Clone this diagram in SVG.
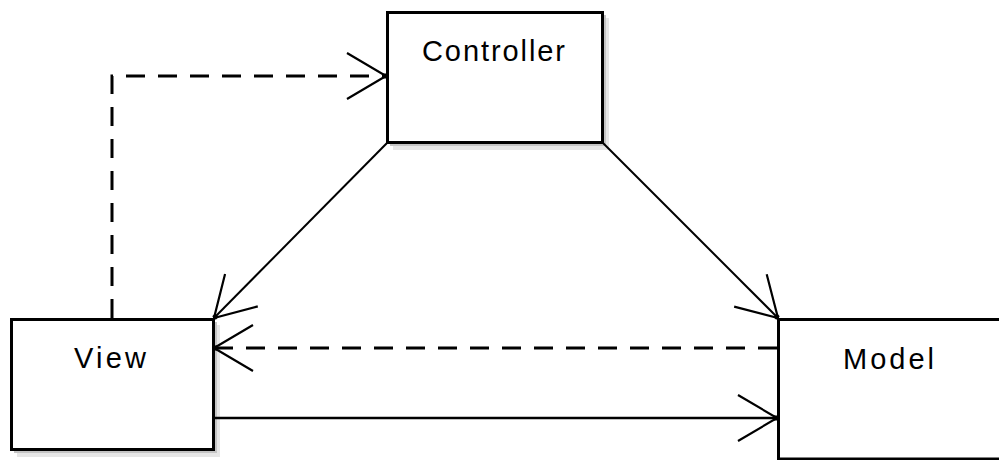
<svg xmlns="http://www.w3.org/2000/svg" width="999" height="460" viewBox="0 0 999 460">
<style>
.box{fill:#fff;stroke:#000;stroke-width:3}
.sh1{fill:#c4c4c4}
.sh2{fill:#e6e6e6}
.lbl{font-family:"Liberation Sans",Arial,sans-serif;font-size:29px;fill:#000}
.conn{fill:none;stroke:#000;stroke-width:2.5}
.diag{stroke-width:2}
.dash{stroke-width:3;stroke-dasharray:19 13}
</style>
<defs>
<marker id="open" markerUnits="userSpaceOnUse" markerWidth="60" markerHeight="60" refX="0" refY="0" viewBox="-50 -30 60 60" orient="auto" overflow="visible">
<path d="M -39 -23 L 0 0 L -39 23" fill="none" stroke="#000" stroke-width="2.2"/>
<rect x="-4" y="-2.5" width="4" height="5" fill="#000"/>
</marker>
</defs>
<rect width="999" height="460" fill="#fff"/>
<g id="controller">
<rect class="sh2" x="393" y="18" width="216" height="132"/>
<rect class="sh1" x="390" y="15" width="216" height="131"/>
<rect class="box" x="387.5" y="12.5" width="215" height="130"/>
<text class="lbl" x="422" y="61" textLength="143" lengthAdjust="spacing">Controller</text>
</g>
<g id="view">
<rect class="sh2" x="17" y="325" width="203" height="132"/>
<rect class="sh1" x="14" y="322" width="203" height="131"/>
<rect class="box" x="11.5" y="319.5" width="202" height="130"/>
<text class="lbl" x="74" y="368" textLength="72" lengthAdjust="spacing">View</text>
</g>
<g id="model">
<rect class="box" x="778.5" y="319.5" width="240" height="139.5" stroke-width="2.5"/>
<text class="lbl" x="843" y="369" textLength="91" lengthAdjust="spacing">Model</text>
</g>
<g id="connectors">
<path class="conn dash" d="M 112 318 V 76 H 386" marker-end="url(#open)"/>
<path class="conn diag" d="M 387 143 L 214 318" marker-end="url(#open)"/>
<path class="conn diag" d="M 603 143 L 778 318" marker-end="url(#open)"/>
<path class="conn dash" d="M 777 348 H 214" marker-end="url(#open)"/>
<path class="conn" d="M 214 418 H 777" marker-end="url(#open)"/>
</g>
</svg>
